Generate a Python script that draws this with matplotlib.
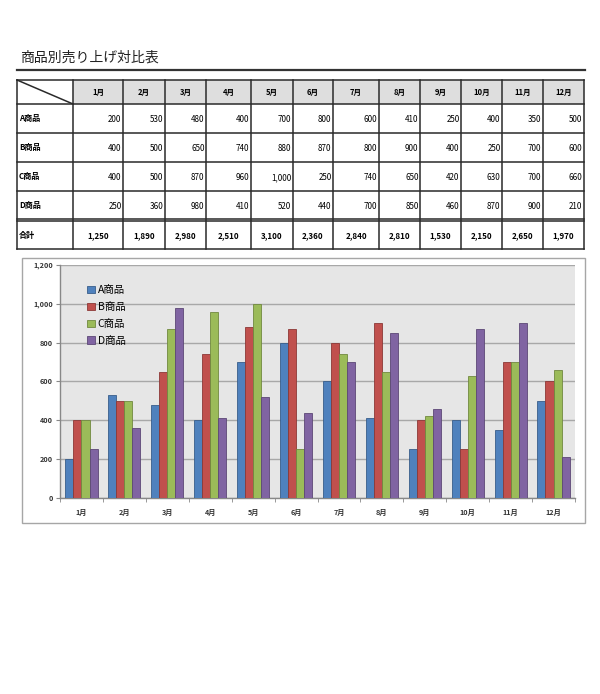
import numpy as np
import matplotlib.pyplot as plt
from matplotlib.patches import Rectangle

plt.rcParams['font.family'] = ['Noto Sans CJK JP', 'DejaVu Sans']

title = '商品別売り上げ対比表'
months = ['1月', '2月', '3月', '4月', '5月', '6月', '7月', '8月', '9月', '10月', '11月', '12月']
products = ['A商品', 'B商品', 'C商品', 'D商品']
a_sales = [200, 530, 480, 400, 700, 800, 600, 410, 250, 400, 350, 500]
b_sales = [400, 500, 650, 740, 880, 870, 800, 900, 400, 250, 700, 600]
c_sales = [400, 500, 870, 960, 1000, 250, 740, 650, 420, 630, 700, 660]
d_sales = [250, 360, 980, 410, 520, 440, 700, 850, 460, 870, 900, 210]
total_label = '合計'
totals = [1250, 1890, 2980, 2510, 3100, 2360, 2840, 2810, 1530, 2150, 2650, 1970]

series = [a_sales, b_sales, c_sales, d_sales]
colors = ['#4F81BD', '#C0504D', '#9BBB59', '#8064A2']
edges = ['#385D8A', '#8C3836', '#71893F', '#5C4776']

fig = plt.figure(figsize=(6, 6.94), dpi=100)

# page overlay in pixel coords
pg = fig.add_axes([0, 0, 1, 1], zorder=0)
pg.set_xlim(0, 600)
pg.set_ylim(694, 0)
pg.axis('off')

pg.text(20, 58, title, fontsize=10, va='center', ha='left', color='#222222')
pg.plot([17, 585], [70, 70], color='#333333', lw=1.6)

# table
col_edges = [17, 73, 123, 165, 206, 251, 293, 333, 379, 420, 461, 502, 543, 584]
row_edges = [80, 104, 133, 162, 191, 219]
total_top, total_bot = 221, 249

for i in range(len(months)):
    pg.add_patch(Rectangle((col_edges[i + 1], 80), col_edges[i + 2] - col_edges[i + 1], 24,
                           facecolor='#dedede', edgecolor='none'))

lc = '#2a2a2a'
lw = 1.1
for y in row_edges + [total_top, total_bot]:
    pg.plot([17, 584], [y, y], color=lc, lw=lw)
for x in col_edges:
    pg.plot([x, x], [80, total_bot], color=lc, lw=lw)
pg.plot([17, 73], [80, 104], color=lc, lw=lw)

for i, m in enumerate(months):
    cx = (col_edges[i + 1] + col_edges[i + 2]) / 2
    pg.text(cx, 92, m, fontsize=5.5, fontweight='bold', ha='center', va='center')

for r, (name, vals) in enumerate(zip(products, series)):
    cy = (row_edges[r + 1] + row_edges[r + 2]) / 2
    pg.text(19, cy, name, fontsize=5.8, fontweight='bold', ha='left', va='center')
    for i, v in enumerate(vals):
        pg.text(col_edges[i + 2] - 1.5, cy, f'{v:,}', fontsize=5.8,
                ha='right', va='center_baseline')

cy = (total_top + total_bot) / 2
pg.text(19, cy, total_label, fontsize=5.8, fontweight='bold', ha='left', va='center')
for i, v in enumerate(totals):
    cx = (col_edges[i + 1] + col_edges[i + 2]) / 2
    pg.text(cx, cy, f'{v:,}', fontsize=5.8, fontweight='bold', ha='center',
            va='center_baseline')

# chart frame
pg.add_patch(Rectangle((22, 258), 563, 265, facecolor='white', edgecolor='#a6a6a6', lw=1))

# chart
ax = fig.add_axes([60 / 600, 196 / 694, 515 / 600, 233 / 694], zorder=1)
ax.set_facecolor('#e6e6e6')
x = np.arange(len(months))
w = 0.1875
for k, (vals, name) in enumerate(zip(series, products)):
    ax.bar(x + (k - 1.5) * w, vals, width=w, color=colors[k], edgecolor=edges[k],
           linewidth=0.6, label=name, zorder=3)

ax.set_xlim(-0.5, len(months) - 0.5)
ax.set_ylim(0, 1200)
ax.set_yticks(np.arange(0, 1201, 200))
ax.set_yticklabels([f'{int(t):,}' for t in np.arange(0, 1201, 200)])
ax.grid(axis='y', color='#a8a8a8', lw=1, zorder=1)
ax.set_xticks(x)
ax.set_xticklabels(months)
ax.set_xticks(np.arange(-0.5, len(months)), minor=True)
ax.tick_params(axis='x', which='major', length=0, pad=8, labelsize=5.2)
ax.tick_params(axis='x', which='minor', length=3, color='#888888')
ax.tick_params(axis='y', length=3, pad=2, labelsize=5.2, color='#888888')
for lab in ax.get_xticklabels() + ax.get_yticklabels():
    lab.set_fontweight('bold')
    lab.set_color('#333333')
for s in ['top', 'right']:
    ax.spines[s].set_visible(False)
for s in ['left', 'bottom']:
    ax.spines[s].set_color('#888888')
    ax.spines[s].set_linewidth(1)

ax.legend(loc='upper left', bbox_to_anchor=(0.045, 0.93), frameon=False, fontsize=7.5,
          handlelength=0.7, handleheight=0.7, handletextpad=0.3, labelspacing=0.65,
          borderaxespad=0)

fig.savefig('out.png', dpi=100)
